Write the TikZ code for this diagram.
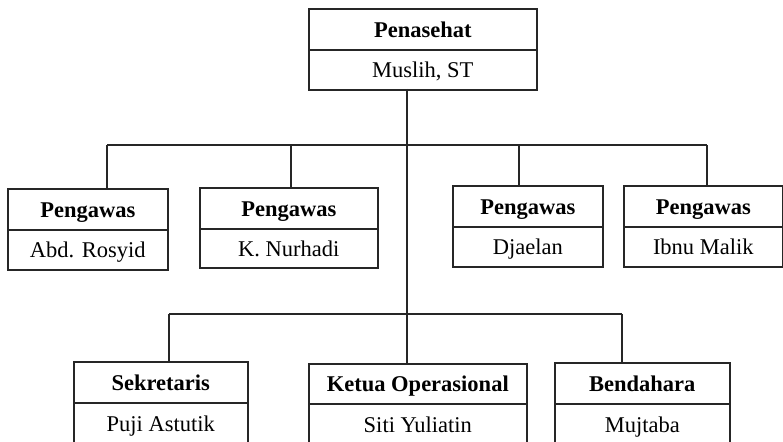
\documentclass[tikz,border=0pt]{standalone}
\usepackage{fontspec}
\setmainfont{Liberation Serif}
\begin{document}
\begin{tikzpicture}[x=1pt,y=-1pt,
  every node/.style={font=\fontsize{22.5}{27}\selectfont},
  part/.style={draw=black!85, line width=1.6pt, rectangle, inner sep=0pt,
    text height=19pt, text depth=3pt, anchor=north west},
  ttl/.style={part, font=\fontsize{22.5}{27}\selectfont\bfseries},
  nm/.style={part},
  conn/.style={draw=black!85, line width=1.6pt}]
\clip (0,0) rectangle (783,441);
% Penasehat
\node[ttl, minimum width=228pt, minimum height=41pt] (pT) at (308,8) {Penasehat};
\node[nm, minimum width=228pt, minimum height=40pt] (pN) at (308,49) {Muslih, ST};
% Pengawas row
\node[ttl, minimum width=160pt, minimum height=41pt] (a1T) at (7,188) {Pengawas};
\node[nm, minimum width=160pt, minimum height=40pt] (a1N) at (7,229) {Abd. Rosyid};
\node[ttl, minimum width=178pt, minimum height=41pt] (a2T) at (199,187) {Pengawas};
\node[nm, minimum width=178pt, minimum height=39pt] (a2N) at (199,228) {K. Nurhadi};
\node[ttl, minimum width=150pt, minimum height=41pt] (a3T) at (452,185) {Pengawas};
\node[nm, minimum width=150pt, minimum height=40pt] (a3N) at (452,226) {Djaelan};
\node[ttl, minimum width=159pt, minimum height=41pt] (a4T) at (623,185) {Pengawas};
\node[nm, minimum width=159pt, minimum height=40pt] (a4N) at (623,226) {Ibnu Malik};
% bottom row
\node[ttl, minimum width=174pt, minimum height=41pt] (sT) at (73,361) {Sekretaris};
\node[nm, minimum width=174pt, minimum height=42pt] (sN) at (73,402) {Puji Astutik};
\node[ttl, minimum width=218pt, minimum height=40pt] (kT) at (308,363) {Ketua Operasional};
\node[nm, minimum width=218pt, minimum height=42pt] (kN) at (308,403) {Siti Yuliatin};
\node[ttl, minimum width=175pt, minimum height=41pt] (bT) at (554,362) {Bendahara};
\node[nm, minimum width=175pt, minimum height=42pt] (bN) at (554,403) {Mujtaba};
% connector points
\coordinate (trunk) at (407,89);
\coordinate (u1) at (107,145);
\coordinate (u2) at (291,145);
\coordinate (u3) at (519,145);
\coordinate (u4) at (707,145);
\coordinate (l1) at (169,314);
\coordinate (l2) at (622,314);
% connectors
\draw[conn] (trunk) -- (trunk |- kT.north);
\draw[conn] (u1) -- (u4);
\draw[conn] (u1) -- (u1 |- a1T.north);
\draw[conn] (u2) -- (u2 |- a2T.north);
\draw[conn] (u3) -- (u3 |- a3T.north);
\draw[conn] (u4) -- (u4 |- a4T.north);
\draw[conn] (l1) -- (l2);
\draw[conn] (l1) -- (l1 |- sT.north);
\draw[conn] (l2) -- (l2 |- bT.north);
\end{tikzpicture}
\end{document}
